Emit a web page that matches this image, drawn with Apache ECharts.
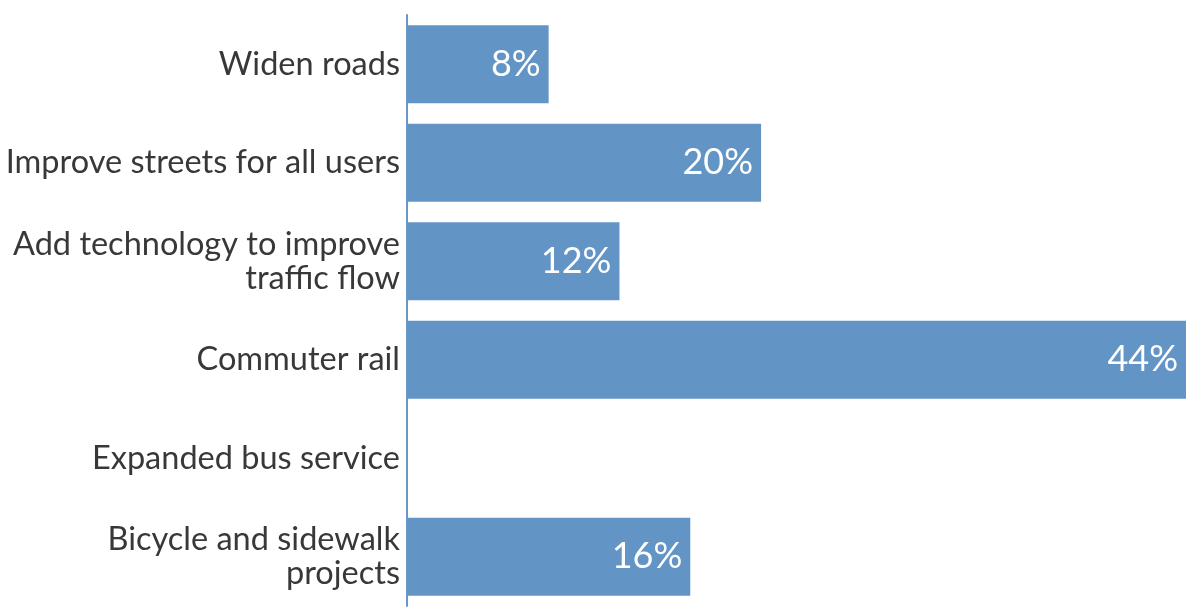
<!DOCTYPE html>
<html><head><meta charset="utf-8">
<script src="https://cdn.jsdelivr.net/npm/echarts@6/dist/echarts.min.js"></script>
<style>html,body{margin:0;padding:0;background:#fff}#c{width:1186px;height:614px}</style>
</head><body><div id="c"></div>
<script>
const categories = ["Widen roads","Improve streets for all users","Add technology to improve\ntraffic flow","Commuter rail","Expanded bus service","Bicycle and sidewalk\nprojects"];
const values = [8, 20, 12, 44, null, 16];

const chart = echarts.init(document.getElementById('c'));
const font = 'Lato, "Open Sans", sans-serif';
chart.setOption({
  animation:false,
  grid:{left:407, right:0, top:15, bottom:8, containLabel:false},
  xAxis:{type:'value', min:0, max:44, show:false},
  yAxis:{type:'category', data:categories, inverse:true,
    axisLine:{show:true, lineStyle:{color:'#6a97c6', width:2}},
    axisTick:{show:false},
    axisLabel:{color:'#383838', fontSize:32.5, fontFamily:font, margin:7, lineHeight:34, align:'right'}
  },
  series:[{type:'bar', data:values, barCategoryGap:'21%',
    itemStyle:{color:'#6394c6'},
    label:{show:true, position:'insideRight', distance:8, color:'#fff', fontSize:36, fontFamily:font, formatter:'{c}%'}
  }]
});
</script></body></html>
